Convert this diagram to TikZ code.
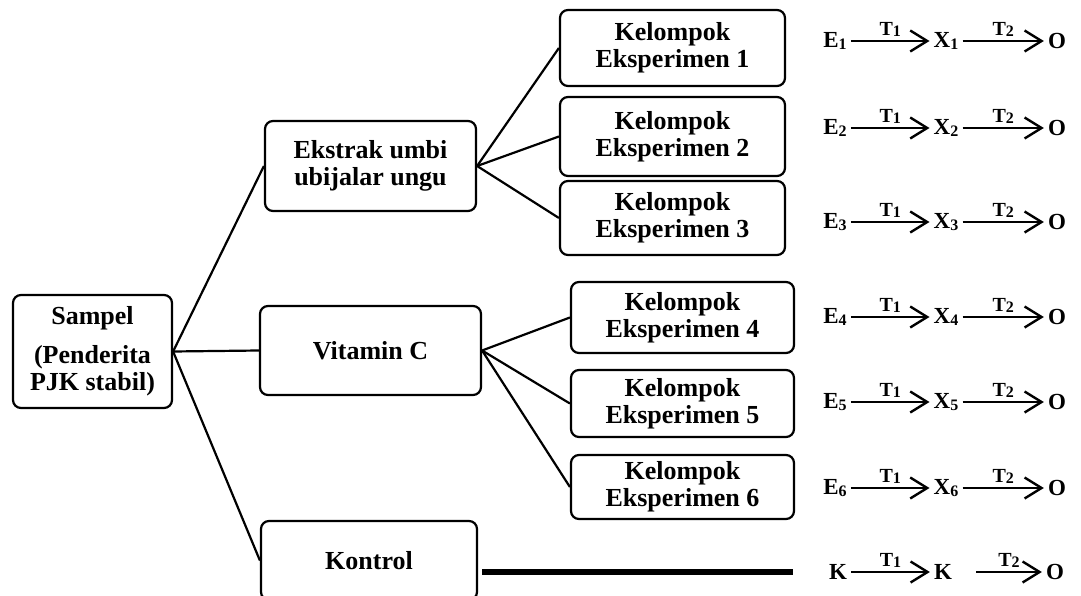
\documentclass[tikz,border=0pt]{standalone}
\usepackage{fontspec}
\setmainfont{Liberation Serif}
\usetikzlibrary{arrows.meta}
\newcommand{\subidx}[1]{\raisebox{-1.5pt}{\fontsize{16}{16}\selectfont#1}}
\tikzset{
 box/.style={draw, line width=2.2pt, rounded corners=8pt, align=center, inner sep=0pt, font=\fontsize{26}{27}\selectfont\bfseries},
 link/.style={line width=2.2pt},
 term/.style={inner sep=4pt, font=\fontsize{23}{24}\selectfont\bfseries},
 lbl/.style={above, inner sep=3pt, font=\fontsize{20}{21}\selectfont\bfseries},
 flow/.style={line width=2.2pt, -{Straight Barb[length=17pt,width=21pt,line width=2.4pt]}}
}
\begin{document}
\begin{tikzpicture}[x=1pt, y=-1pt]
\useasboundingbox (0,0) rectangle (1081,596);
\clip (0,0) rectangle (1081,596);
\node[box, minimum width=159, minimum height=113] (sampel) at (92.5,351.5) {Sampel\\[12pt](Penderita\\PJK stabil)};
\node[box, minimum width=211, minimum height=90] (ekstrak) at (370.5,166) {Ekstrak umbi\\ubijalar ungu};
\node[box, minimum width=221, minimum height=89] (vitc) at (370.5,350.5) {Vitamin C};
\node[box, minimum width=216, minimum height=79] (kontrol) at (369,560.5) {Kontrol};
\foreach \i/\y/\h in {1/48/76, 2/136.5/79, 3/218/74} {
 \node[box, minimum width=225, minimum height=\h] (kel\i) at (672.5,\y) {Kelompok\\Eksperimen \i};
 \draw[link] (ekstrak.east) -- (kel\i.west);
}
\foreach \i/\y/\h in {4/317.5/71, 5/403.5/67, 6/487/64} {
 \node[box, minimum width=223, minimum height=\h] (kel\i) at (682.5,\y) {Kelompok\\Eksperimen \i};
 \draw[link] (vitc.east) -- (kel\i.west);
}
\draw[link] (sampel.east) -- (ekstrak.west);
\draw[link] (sampel.east) -- (vitc.west);
\draw[link] (sampel.east) -- (kontrol.west);
\foreach \i/\y in {1/41, 2/128, 3/222, 4/317, 5/402, 6/488} {
 \node[term] (e\i) at (835,\y) {E\subidx{\i}};
 \node[term] (x\i) at (946,\y) {X\subidx{\i}};
 \node[term] (o\i) at (1057,\y) {O};
 \draw[flow] (e\i) -- node[lbl] {T\subidx{1}} (x\i);
 \draw[flow] (x\i) -- node[lbl] {T\subidx{2}} (o\i);
}
\node[term] (ka) at (838,572) {K};
\node[term] (kb) at (943,572) {K};
\node[term] (ko) at (1055,572) {O};
\draw[flow] (ka) -- node[lbl] {T\subidx{1}} (kb);
\draw[flow] ([xshift=20pt]kb.east) -- node[lbl] {T\subidx{2}} (ko);
\coordinate (kstart) at (482,572);
\coordinate (kend) at (793,572);
\draw[line width=6pt] (kstart) -- (kend);
\end{tikzpicture}
\end{document}
